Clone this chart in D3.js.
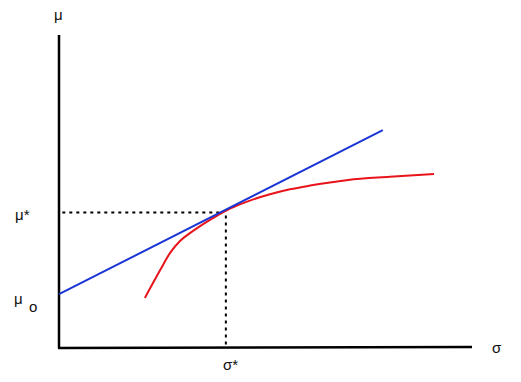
<!DOCTYPE html>
<html>
<head>
<meta charset="utf-8">
<script src="https://cdn.jsdelivr.net/npm/d3@7/dist/d3.min.js"></script>
<style>
 body { margin: 0; background: #fff; }
 svg { display: block; }
 .lbl { font-family: "Liberation Sans", Arial, sans-serif; font-size: 15px; fill: #111; }
</style>
</head>
<body>
<svg id="chart" width="521" height="382"></svg>
<script>
 // domain units: sigma 0..10, mu 0..10
 var tangentLine = [[0, 1.72], [7.84, 6.96]];
 var frontier = [
     [2.08, 1.60], [2.45, 2.49], [2.69, 3.04], [2.93, 3.42], [3.17, 3.67],
     [3.49, 3.96], [3.78, 4.19], [4.14, 4.45], [4.62, 4.71], [5.11, 4.91],
     [5.59, 5.07], [6.08, 5.19], [6.56, 5.29], [7.00, 5.37], [8.01, 5.47],
     [9.08, 5.56]
 ];
 var optimum = [4.04, 4.33];          // sigma*, mu*
 var labels = { y: "μ", x: "σ", muStar: "μ*", sigmaStar: "σ*", mu0: "μ", mu0sub: "o" };

 var svg = d3.select("#chart");
 var x = d3.scaleLinear().domain([0, 10]).range([59, 472]);
 var y = d3.scaleLinear().domain([0, 10]).range([348, 35]);

 var line = d3.line().x(function(d){ return x(d[0]); }).y(function(d){ return y(d[1]); });

 // axes
 svg.append("line").attr("x1", x(0)).attr("y1", y(0)).attr("x2", x(0)).attr("y2", y(10))
    .attr("stroke", "#000").attr("stroke-width", 2.5);
 svg.append("line").attr("x1", x(0) - 1).attr("y1", y(0)).attr("x2", x(10)).attr("y2", y(0.03))
    .attr("stroke", "#000").attr("stroke-width", 2.5);

 // dotted guides
 svg.append("line").attr("x1", x(0.08)).attr("y1", y(optimum[1])).attr("x2", x(optimum[0]) - 4).attr("y2", y(optimum[1]))
    .attr("stroke", "#000").attr("stroke-width", 2).attr("stroke-dasharray", "3,4");
 svg.append("line").attr("x1", x(optimum[0])).attr("y1", y(optimum[1]) + 3).attr("x2", x(optimum[0])).attr("y2", y(0.08))
    .attr("stroke", "#000").attr("stroke-width", 2).attr("stroke-dasharray", "3,4");

 // efficient frontier (red)
 svg.append("path").datum(frontier).attr("d", d3.line().curve(d3.curveMonotoneX)
        .x(function(d){ return x(d[0]); }).y(function(d){ return y(d[1]); }))
    .attr("fill", "none").attr("stroke", "#e8141b").attr("stroke-width", 2);

 // capital allocation line (blue)
 svg.append("path").datum(tangentLine).attr("d", line)
    .attr("fill", "none").attr("stroke", "#1a35d6").attr("stroke-width", 2);

 // labels
 svg.append("text").attr("class", "lbl").attr("x", 54).attr("y", 20).text(labels.y);
 svg.append("text").attr("class", "lbl").attr("x", 492).attr("y", 353).text(labels.x);
 svg.append("text").attr("class", "lbl").attr("x", 15).attr("y", 220).text(labels.muStar);
 svg.append("text").attr("class", "lbl").attr("x", 223).attr("y", 370).text(labels.sigmaStar);
 svg.append("text").attr("class", "lbl").attr("x", 14).attr("y", 304).text(labels.mu0);
 svg.append("text").attr("class", "lbl").attr("x", 29).attr("y", 312).text(labels.mu0sub);
</script>
</body>
</html>
